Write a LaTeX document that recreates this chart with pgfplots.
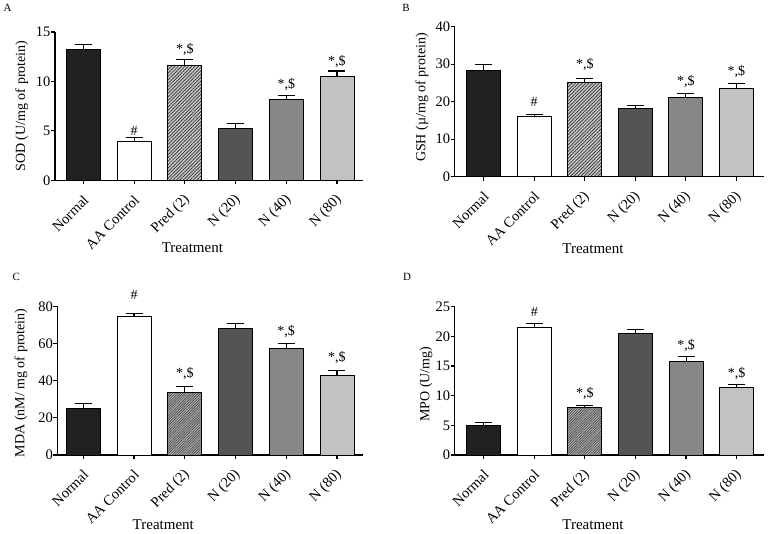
\documentclass[border=0pt]{standalone}
\usepackage{fontspec}
\setmainfont{Liberation Serif}
\usepackage{pgfplots}
\pgfplotsset{compat=1.18}
\usetikzlibrary{patterns.meta}

\pgfplotsset{
  panel/.style={
    scale only axis, clip=false, anchor=south west,
    axis x line*=bottom, axis y line*=left,
    axis line style={line width=1.2pt},
    tick style={line width=1.2pt, black},
    tick align=outside, major tick length=4pt,
    xtick={0,...,5},
    xticklabels={Normal, AA Control, Pred (2), N (20), N (40), N (80)},
    xticklabel style={yshift=-12pt, xshift=4pt, rotate=45, anchor=east, inner sep=2pt,
      font=\fontsize{14.5}{16}\selectfont},
    yticklabel style={xshift=3pt, font=\fontsize{14.5}{16}\selectfont},
    ymin=0,
    font=\fontsize{14}{16}\selectfont,
    /pgf/number format/assume math mode=true,
    xlabel={Treatment},
    xlabel style={anchor=center, font=\fontsize{15}{17}\selectfont},
    ylabel style={anchor=center},
  },
  bar/.style={ybar, bar width=34pt, bar shift=0pt, draw=black, line width=0.9pt,
    /pgfplots/error bars/y dir=plus, /pgfplots/error bars/y explicit,
    /pgfplots/error bars/error bar style={line width=1.1pt, black},
    /pgfplots/error bars/error mark options={rotate=90, mark size=8.5pt, line width=1.1pt, black}},
  b0/.style={fill=black!87},
  b1/.style={fill=white},
  b2/.style={fill=black!22, postaction={pattern={Lines[angle=45,distance=2.4pt,line width=0.7pt]}, pattern color=black!80}},
  b2c/.style={fill=black!35, postaction={pattern={Lines[angle=45,distance=1.8pt,line width=0.5pt]}, pattern color=black!75}},
  b3/.style={fill=black!67},
  b4/.style={fill=black!47},
  b5/.style={fill=black!24},
}
\newcommand{\sig}[2]{\node[font=\fontsize{14}{15}\selectfont] at (axis cs:#1) {#2};}

\begin{document}
\begin{tikzpicture}
\useasboundingbox (0,0) rectangle (768pt,533pt);

% A: SOD
\begin{axis}[panel, at={(55pt,352.7pt)}, width=308pt, height=148.3pt,
  xmin=-0.562, xmax=5.513, ymax=15, ytick={0,5,10,15},
  ylabel={SOD (U/mg of protein)},
  ylabel style={at={(axis description cs:-0.108,0.5)}},
  xlabel style={at={(axis description cs:0.446,-0.457)}}]
\addplot[bar, b0] coordinates {(0,13.2) +- (0,0.55)};
\addplot[bar, b1] coordinates {(1,3.95) +- (0,0.4)};
\addplot[bar, b2] coordinates {(2,11.6) +- (0,0.65)};
\addplot[bar, b3] coordinates {(3,5.25) +- (0,0.45)};
\addplot[bar, b4] coordinates {(4,8.2) +- (0,0.4)};
\addplot[bar, b5] coordinates {(5,10.5) +- (0,0.55)};
\sig{1,5.0}{\#}
\sig{2,13.2}{*,\$}
\sig{4,9.66}{*,\$}
\sig{5,12.0}{*,\$}
\end{axis}

% B: GSH
\begin{axis}[panel, at={(454.7pt,356.3pt)}, width=309.3pt, height=150pt,
  xmin=-0.574, xmax=5.548, ymax=40, ytick={0,10,...,40},
  ylabel={GSH (µ/mg of protein)},
  ylabel style={at={(axis description cs:-0.106,0.528)}},
  xlabel style={at={(axis description cs:0.447,-0.477)}}]
\addplot[bar, b0] coordinates {(0,28.2) +- (0,1.6)};
\addplot[bar, b1] coordinates {(1,16.1) +- (0,0.5)};
\addplot[bar, b2] coordinates {(2,25.1) +- (0,1.0)};
\addplot[bar, b3] coordinates {(3,18.1) +- (0,0.8)};
\addplot[bar, b4] coordinates {(4,21.1) +- (0,1.0)};
\addplot[bar, b5] coordinates {(5,23.6) +- (0,1.2)};
\sig{1,20}{\#}
\sig{2,29.8}{*,\$}
\sig{4,25.3}{*,\$}
\sig{5,28}{*,\$}
\end{axis}

% C: MDA
\begin{axis}[panel, at={(57.3pt,78pt)}, width=305.4pt, height=148.7pt,
  xmin=-0.512, xmax=5.507, ymax=80, ytick={0,20,...,80},
  ylabel={MDA (nM/ mg of protein)},
  ylabel style={at={(axis description cs:-0.119,0.485)}},
  xlabel style={at={(axis description cs:0.347,-0.468)}}]
\addplot[bar, b0] coordinates {(0,24.8) +- (0,3.0)};
\addplot[bar, b1] coordinates {(1,74.4) +- (0,1.8)};
\addplot[bar, b2c] coordinates {(2,33.5) +- (0,3.5)};
\addplot[bar, b3] coordinates {(3,68) +- (0,2.9)};
\addplot[bar, b4] coordinates {(4,57.4) +- (0,2.5)};
\addplot[bar, b5] coordinates {(5,42.9) +- (0,2.8)};
\sig{1,86.1}{\#}
\sig{2,43.6}{*,\$}
\sig{4,66.6}{*,\$}
\sig{5,52.2}{*,\$}
\end{axis}

% D: MPO
\begin{axis}[panel, at={(454.7pt,78pt)}, width=309.3pt, height=148.3pt,
  xmin=-0.573, xmax=5.54, ymax=25, ytick={0,5,...,25},
  ylabel={MPO (U/mg)},
  ylabel style={at={(axis description cs:-0.093,0.478)}},
  xlabel style={at={(axis description cs:0.447,-0.468)}}]
\addplot[bar, b0] coordinates {(0,4.95) +- (0,0.5)};
\addplot[bar, b1] coordinates {(1,21.47) +- (0,0.65)};
\addplot[bar, b2c] coordinates {(2,8.0) +- (0,0.4)};
\addplot[bar, b3] coordinates {(3,20.57) +- (0,0.55)};
\addplot[bar, b4] coordinates {(4,15.8) +- (0,0.8)};
\addplot[bar, b5] coordinates {(5,11.4) +- (0,0.5)};
\sig{1,24.06}{\#}
\sig{2,10.3}{*,\$}
\sig{4,18.4}{*,\$}
\sig{5,13.8}{*,\$}
\end{axis}

\node[font=\fontsize{11}{13}\selectfont] at (7.5pt,525.5pt) {A};
\node[font=\fontsize{11}{13}\selectfont] at (406pt,525.5pt) {B};
\node[font=\fontsize{11}{13}\selectfont] at (16.3pt,256pt) {C};
\node[font=\fontsize{11}{13}\selectfont] at (407pt,256pt) {D};
\end{tikzpicture}
\end{document}
